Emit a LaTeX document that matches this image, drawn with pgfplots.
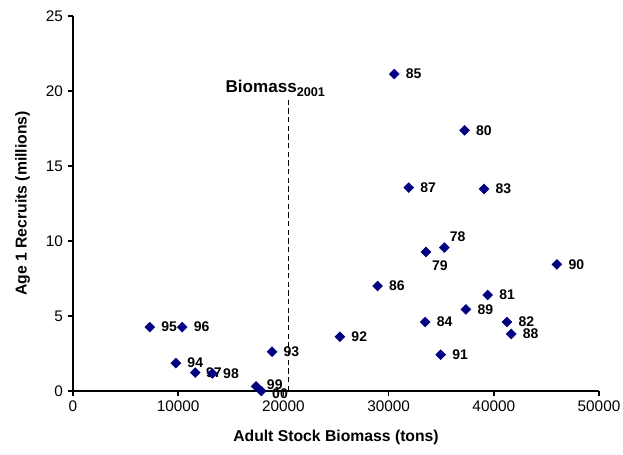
\documentclass[border=0pt]{standalone}
\usepackage{fontspec}
\setmainfont{Liberation Sans}
\usepackage{pgfplots}
\usepackage{pgfplotstable}
\pgfplotsset{compat=1.18}
\usetikzlibrary{calc}
\definecolor{ptnavy}{HTML}{000080}

% biomass (tons), recruits (millions), year label, label shift
\pgfplotstableread{
x y lab dx dy
35300 9.56 78 4 8
33550 9.27 79 4.5 -10
37220 17.38 80 8.5 0
39420 6.40 81 8.5 0
41250 4.60 82 8.5 0
39070 13.47 83 8.5 0
33480 4.60 84 8.5 0
30540 21.13 85 8.5 0
28950 7.00 86 8.5 0
31920 13.56 87 8.5 0
41660 3.80 88 8.5 0
37350 5.44 89 8.5 0
46000 8.44 90 8.5 0
34950 2.42 91 8.5 0
25370 3.62 92 8.5 0
18920 2.62 93 8.5 0
9780 1.86 94 8.5 0
7300 4.26 95 8.5 0
10380 4.26 96 8.5 0
11620 1.23 97 8 0
13240 1.17 98 8 0
17400 0.31 99 8 1
17900 0.00 00 8 -2
}\recruits

\begin{document}
\begin{tikzpicture}
\begin{axis}[
    scale only axis,
    width=394.5pt,
    height=281.25pt,
    xmin=0, xmax=50000,
    ymin=0, ymax=25,
    axis lines=left,
    axis line style={-, line width=1.5pt},
    xtick={0,10000,...,50000},
    ytick={0,5,...,25},
    scaled x ticks=false,
    xticklabel style={/pgf/number format/1000 sep={}},
    tick align=outside,
    major tick length=4pt,
    tick style={line width=1.2pt, black},
    /pgf/number format/assume math mode=true,
    tick label style={font=\fontsize{11.5}{13}\selectfont},
    label style={font=\bfseries\fontsize{11.8}{13}\selectfont},
    xlabel={Adult Stock Biomass (tons)},
    ylabel={Age 1 Recruits (millions)},
    xlabel style={yshift=-7pt},
    ylabel style={yshift=5pt},
    clip=false,
]
\addplot[black, line width=0.8pt, dash pattern=on 4pt off 2.5pt] coordinates {(20500,0) (20500,19.45)};
\addplot[
    only marks,
    mark=square*,
    mark size=2.6pt,
    mark options={rotate=45, fill=ptnavy, draw=ptnavy},
    point meta=explicit symbolic,
    nodes near coords,
    visualization depends on={\thisrow{dx} \as \dx},
    visualization depends on={\thisrow{dy} \as \dy},
    nodes near coords style={anchor=west, inner sep=0pt, xshift=\dx pt, yshift=\dy pt,
        font=\bfseries\fontsize{10.5}{12}\selectfont, text=black},
] table[x=x, y=y, meta=lab] {\recruits};
\node[anchor=base, inner sep=0pt, xshift=-10pt, font=\bfseries\fontsize{12.8}{14}\selectfont]
    at (axis cs:20500,19.87) {Biomass\raisebox{-3pt}{\fontsize{9.5}{10}\selectfont 2001}};
\end{axis}
\pgfresetboundingbox
\path ($(current axis.south west)+(-54.75pt,-47.25pt)$) rectangle ($(current axis.north east)+(18pt,12pt)$);
\end{tikzpicture}
\end{document}
